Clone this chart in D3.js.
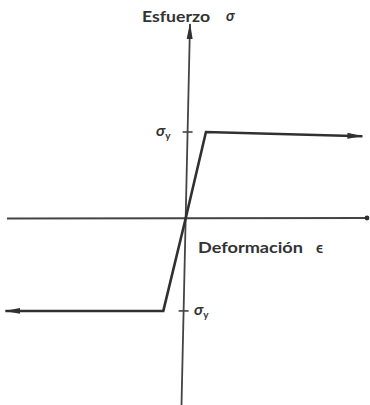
<!DOCTYPE html>
<html>
<head>
<meta charset="utf-8">
<script src="https://cdn.jsdelivr.net/npm/d3@7"></script>
<style>
  html, body { margin: 0; padding: 0; background: #fff; }
  svg { display: block; }
  text { font-family: Lato, "Open Sans", sans-serif; fill: #333; }
</style>
</head>
<body>
<svg id="chart" width="370" height="405"></svg>
<script>
// Elastic–perfectly-plastic stress–strain law (strain in units of yield strain)
const strain = [-8.6, -1.08, 0, 0.95, 8.4];
const stress = [-1.105, -1.105, 0, 1.0, 0.95];

// Yield stress marks on the stress axis
const yieldTicks = [1.0, -1.105];
const yieldLabel = "σ";
const yieldSub = "y";

const axisTitleY = "Esfuerzo";
const axisTitleX = "Deformación";

const ink = "#303030";
const axisInk = "#444";
const svg = d3.select("#chart");

// Scales: origin of the diagram sits near the middle of the page
const x = d3.scaleLinear().domain([0, 1]).range([186, 207]);
const y = d3.scaleLinear().domain([0, 1]).range([217, 132]);

// Arrowhead markers
const defs = svg.append("defs");
defs.append("marker")
  .attr("id", "head")
  .attr("viewBox", "0 0 16 8")
  .attr("refX", 15).attr("refY", 4)
  .attr("markerWidth", 16).attr("markerHeight", 8)
  .attr("markerUnits", "userSpaceOnUse")
  .attr("orient", "auto-start-reverse")
  .append("path")
  .attr("d", "M0,1 L16,4 L0,7 Z")
  .attr("fill", ink);

// Horizontal (strain) axis with a dot at its end
svg.append("line")
  .attr("x1", 7).attr("y1", 218.5)
  .attr("x2", 366).attr("y2", 218)
  .attr("stroke", axisInk).attr("stroke-width", 1.8);
svg.append("circle")
  .attr("cx", 367).attr("cy", 218).attr("r", 2.4).attr("fill", ink);

// Vertical (stress) axis, arrow pointing up
const vTop = [190, 24], vBot = [181.5, 405];
svg.append("line")
  .attr("x1", vBot[0]).attr("y1", vBot[1])
  .attr("x2", vTop[0]).attr("y2", vTop[1])
  .attr("stroke", axisInk).attr("stroke-width", 1.8)
  .attr("marker-end", "url(#head)");

function axisXAt(py) {
  return vTop[0] + (vBot[0] - vTop[0]) * (py - vTop[1]) / (vBot[1] - vTop[1]);
}

// Yield stress ticks and labels
yieldTicks.forEach((v, i) => {
  const py = y(v);
  const ax = axisXAt(py);
  svg.append("line")
    .attr("x1", ax - 5).attr("x2", ax + 5)
    .attr("y1", py).attr("y2", py)
    .attr("stroke", axisInk).attr("stroke-width", 1.6);
  const t = svg.append("text")
    .attr("x", i === 0 ? 156 : 194)
    .attr("y", py + 4)
    .attr("font-size", 16)
    .attr("font-style", "italic")
    .attr("font-weight", 700);
  t.append("tspan").text(yieldLabel);
  t.append("tspan").attr("dy", 3).attr("font-size", 10).attr("font-style", "normal").text(yieldSub);
});

// Stress–strain path with arrowheads at both plastic branches
const line = d3.line().x((d, i) => x(strain[i])).y(d => y(d));
svg.append("path")
  .datum(stress)
  .attr("d", line)
  .attr("fill", "none")
  .attr("stroke", ink)
  .attr("stroke-width", 2.6)
  .attr("stroke-linejoin", "miter")
  .attr("marker-start", "url(#head)")
  .attr("marker-end", "url(#head)");

// Axis titles
svg.append("text")
  .attr("x", 142).attr("y", 22)
  .attr("font-size", 16).attr("font-weight", 700)
  .attr("textLength", 68).attr("lengthAdjust", "spacingAndGlyphs")
  .text(axisTitleY);
svg.append("text")
  .attr("x", 226).attr("y", 21)
  .attr("font-size", 15).attr("font-style", "italic").attr("font-weight", 700)
  .text("σ");

svg.append("text")
  .attr("x", 198).attr("y", 253)
  .attr("font-size", 16).attr("font-weight", 700)
  .attr("textLength", 105).attr("lengthAdjust", "spacingAndGlyphs")
  .text(axisTitleX);
svg.append("text")
  .attr("x", 316).attr("y", 253)
  .attr("font-size", 15).attr("font-weight", 700)
  .text("ϵ");
</script>
</body>
</html>
